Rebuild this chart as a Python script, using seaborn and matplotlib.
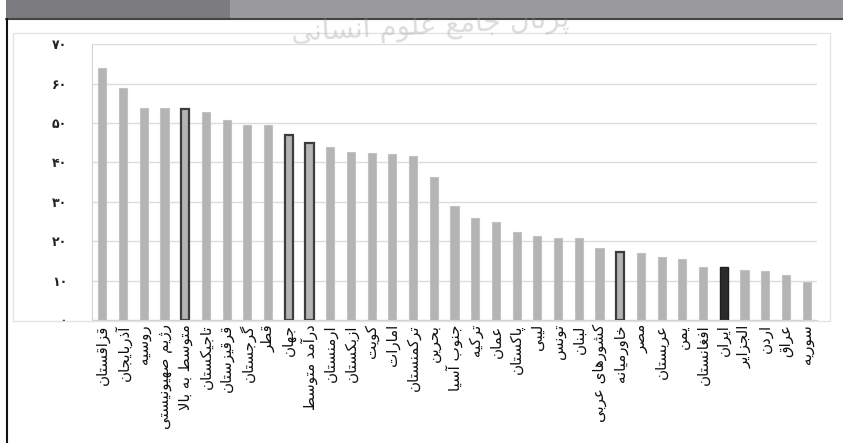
import matplotlib
matplotlib.use('Agg')
import matplotlib.pyplot as plt
import seaborn as sns
from matplotlib.patches import Rectangle
from matplotlib.lines import Line2D

# داده‌ها
countries = ['قزاقستان', 'آذربایجان', 'روسیه', 'رژیم صهیونیستی', 'متوسط به بالا',
             'تاجیکستان', 'قرقیزستان', 'گرجستان', 'قطر', 'جهان', 'درآمد متوسط',
             'ارمنستان', 'ازبکستان', 'کویت', 'امارات', 'ترکمنستان', 'بحرین',
             'جنوب آسیا', 'ترکیه', 'عمان', 'پاکستان', 'لیبی', 'تونس', 'لبنان',
             'کشورهای عربی', 'خاورمیانه', 'مصر', 'عربستان', 'یمن', 'افغانستان',
             'ایران', 'الجزایر', 'اردن', 'عراق', 'سوریه']
values = [64.1, 58.8, 53.9, 53.7, 53.5, 52.9, 50.9, 49.4, 49.4, 47.0, 45.0,
          43.8, 42.7, 42.4, 42.1, 41.7, 36.2, 28.9, 25.9, 25.0, 22.3, 21.4,
          20.9, 20.7, 18.4, 17.3, 17.0, 16.0, 15.4, 13.5, 13.5, 12.6, 12.5,
          11.3, 9.6]
yticks = [0, 10, 20, 30, 40, 50, 60, 70]
ytick_labels = ['۰', '۱۰', '۲۰', '۳۰', '۴۰', '۵۰', '۶۰', '۷۰']
outlined = ['متوسط به بالا', 'جهان', 'درآمد متوسط', 'خاورمیانه']
focus = 'ایران'
watermark = 'پرتال جامع علوم انسانی'

# شکل‌دهی حروف فارسی (matplotlib حروف را به هم نمی‌چسباند)
FORMS = {
    'ا': (0xFE8D, 0xFE8E, None, None), 'آ': (0xFE81, 0xFE82, None, None),
    'ب': (0xFE8F, 0xFE90, 0xFE91, 0xFE92), 'پ': (0xFB56, 0xFB57, 0xFB58, 0xFB59),
    'ت': (0xFE95, 0xFE96, 0xFE97, 0xFE98), 'ث': (0xFE99, 0xFE9A, 0xFE9B, 0xFE9C),
    'ج': (0xFE9D, 0xFE9E, 0xFE9F, 0xFEA0), 'چ': (0xFB7A, 0xFB7B, 0xFB7C, 0xFB7D),
    'ح': (0xFEA1, 0xFEA2, 0xFEA3, 0xFEA4), 'خ': (0xFEA5, 0xFEA6, 0xFEA7, 0xFEA8),
    'د': (0xFEA9, 0xFEAA, None, None), 'ذ': (0xFEAB, 0xFEAC, None, None),
    'ر': (0xFEAD, 0xFEAE, None, None), 'ز': (0xFEAF, 0xFEB0, None, None),
    'ژ': (0xFB8A, 0xFB8B, None, None),
    'س': (0xFEB1, 0xFEB2, 0xFEB3, 0xFEB4), 'ش': (0xFEB5, 0xFEB6, 0xFEB7, 0xFEB8),
    'ص': (0xFEB9, 0xFEBA, 0xFEBB, 0xFEBC), 'ض': (0xFEBD, 0xFEBE, 0xFEBF, 0xFEC0),
    'ط': (0xFEC1, 0xFEC2, 0xFEC3, 0xFEC4), 'ظ': (0xFEC5, 0xFEC6, 0xFEC7, 0xFEC8),
    'ع': (0xFEC9, 0xFECA, 0xFECB, 0xFECC), 'غ': (0xFECD, 0xFECE, 0xFECF, 0xFED0),
    'ف': (0xFED1, 0xFED2, 0xFED3, 0xFED4), 'ق': (0xFED5, 0xFED6, 0xFED7, 0xFED8),
    'ک': (0xFB8E, 0xFB8F, 0xFB90, 0xFB91), 'گ': (0xFB92, 0xFB93, 0xFB94, 0xFB95),
    'ل': (0xFEDD, 0xFEDE, 0xFEDF, 0xFEE0), 'م': (0xFEE1, 0xFEE2, 0xFEE3, 0xFEE4),
    'ن': (0xFEE5, 0xFEE6, 0xFEE7, 0xFEE8), 'و': (0xFEED, 0xFEEE, None, None),
    'ه': (0xFEE9, 0xFEEA, 0xFEEB, 0xFEEC), 'ی': (0xFBFC, 0xFBFD, 0xFBFE, 0xFBFF),
}
LAM_ALEF = {'ا': (0xFEFB, 0xFEFC), 'آ': (0xFEF5, 0xFEF6)}


def joins_next(c):
    return c in FORMS and FORMS[c][2] is not None


def shape(text):
    out = []
    i = 0
    n = len(text)
    while i < n:
        c = text[i]
        if c not in FORMS:
            out.append(c)
            i += 1
            continue
        link_prev = i > 0 and joins_next(text[i - 1])
        if c == 'ل' and i + 1 < n and text[i + 1] in LAM_ALEF:
            iso, fin = LAM_ALEF[text[i + 1]]
            out.append(chr(fin if link_prev else iso))
            i += 2
            continue
        link_next = joins_next(c) and i + 1 < n and text[i + 1] in FORMS
        iso, fin, ini, med = FORMS[c]
        if link_prev and link_next:
            g = med
        elif link_prev:
            g = fin
        elif link_next:
            g = ini
        else:
            g = iso
        out.append(chr(g))
        i += 1
    return ''.join(reversed(out))


sns.set_style('white')
plt.rcParams['font.family'] = ['DejaVu Sans']

fig = plt.figure(figsize=(8.43, 4.43), dpi=100)
ax = fig.add_axes([92 / 843, 1 - 320 / 443, (817 - 92) / 843, (320 - 44.3) / 443])

colors = []
for c in countries:
    colors.append('#2b2b2b' if c == focus else '#b4b4b4')

sns.barplot(x=countries, y=values, hue=countries, palette=colors, legend=False,
            width=0.39, saturation=1, ax=ax)

for bar, c in zip(ax.patches, countries):
    if c in outlined:
        bar.set_edgecolor('#3c3c3c')
        bar.set_linewidth(1.6)
    elif c == focus:
        bar.set_edgecolor('#1e1e1e')
        bar.set_linewidth(1.0)
    else:
        bar.set_edgecolor('#c2c2c2')
        bar.set_linewidth(0.8)

ax.set_xlim(-0.5, len(countries) - 0.5)
ax.set_ylim(0, 70)
ax.set_yticks(yticks)
ax.set_yticklabels(ytick_labels, fontsize=9, fontweight='bold', color='#222222')
ax.set_xticks(range(len(countries)))
ax.set_xticklabels([shape(c) for c in countries], rotation=90, fontsize=10.8,
                   color='#111111')
ax.tick_params(axis='y', length=0, pad=18)
ax.tick_params(axis='x', length=0, pad=3)
ax.set_axisbelow(True)
ax.grid(axis='y', color='#dcdcdc', linewidth=1)
for side in ['top', 'right']:
    ax.spines[side].set_visible(False)
ax.spines['left'].set_color('#d4d4d4')
ax.spines['bottom'].set_color('#cfcfcf')
ax.set_xlabel('')
ax.set_ylabel('')

# قاب و نوار بالای تصویر
W, H = 843, 443
def px(x, y):
    return x / W, 1 - y / H

fig.patches.append(Rectangle(px(6, 19), (230 - 6) / W, 19 / H, transform=fig.transFigure,
                             facecolor='#7c7c80', edgecolor='none', zorder=0))
fig.patches.append(Rectangle(px(230, 19), (W - 230) / W, 19 / H, transform=fig.transFigure,
                             facecolor='#9a9a9c', edgecolor='none', zorder=0))
fig.lines.append(Line2D([6 / W, 1], [1 - 19 / H] * 2, transform=fig.transFigure,
                        color='#444444', linewidth=1.5))
fig.lines.append(Line2D([7 / W] * 2, [0, 1 - 19 / H], transform=fig.transFigure,
                        color='#111111', linewidth=1.5))
fig.patches.append(Rectangle(px(13, 321), (830 - 13) / W, (321 - 33) / H,
                             transform=fig.transFigure, facecolor='none',
                             edgecolor='#e4e4e4', linewidth=1, zorder=0))

fig.text(430 / W, 1 - 27 / H, shape(watermark), fontsize=20, color='#9a9a9a', alpha=0.35,
         ha='center', va='center', rotation=3)

fig.savefig('out.png', dpi=100)
